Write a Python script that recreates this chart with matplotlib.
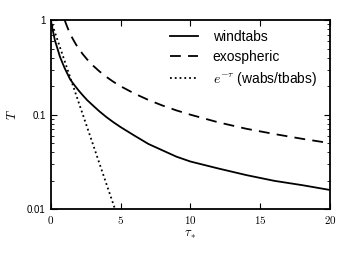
import matplotlib
matplotlib.use("Agg")
import matplotlib.pyplot as plt
from matplotlib.ticker import FixedLocator, LogLocator, NullFormatter

plt.rcParams['font.family'] = ['Liberation Sans', 'DejaVu Sans']
plt.rcParams['mathtext.fontset'] = 'cm'

# values
tau_wind = [0, 0.15, 0.3, 0.5, 0.66, 0.85, 1.0, 1.2, 1.4, 1.7, 2.0, 2.3, 2.6, 3.0, 3.5,
            4.0, 4.5, 5.0, 6.0, 7.0, 8.0, 9.0, 10, 12, 14, 16, 18, 20]
T_wind = [1.0, 0.78, 0.61, 0.49, 0.41, 0.35, 0.31, 0.27, 0.235, 0.205, 0.18, 0.16,
          0.143, 0.126, 0.108, 0.094, 0.083, 0.074, 0.06, 0.049, 0.042, 0.036,
          0.032, 0.027, 0.023, 0.020, 0.018, 0.016]

tau_exo = [1.0, 1.1, 1.25, 1.4, 1.6, 1.8, 2.0, 2.3, 2.6, 3.0, 3.5, 4.0, 4.5, 5.0, 6.0,
           7.0, 8.0, 9.0, 10, 12, 14, 16, 18, 20]
T_exo = [1.0, 0.91, 0.8, 0.71, 0.625, 0.555, 0.5, 0.435, 0.385, 0.333, 0.286, 0.25,
         0.222, 0.2, 0.167, 0.143, 0.125, 0.111, 0.1, 0.083, 0.071, 0.0625,
         0.0556, 0.05]

tau_exp = [0, 1, 2, 3, 4, 4.6]
T_exp = [1.0, 0.368, 0.135, 0.0498, 0.0183, 0.0101]

x_ticks = [0, 5, 10, 15, 20]
y_ticks = [0.01, 0.1, 1]
y_labels = ['0.01', '0.1', '1']

fig = plt.figure(figsize=(3.39, 2.54), dpi=100)
ax = fig.add_axes([0.1496, 0.176, 0.824, 0.745])

ax.plot(tau_wind, T_wind, 'k-', lw=1.3, label='windtabs')
ax.plot(tau_exo, T_exo, 'k--', lw=1.3, dashes=(6, 4), label='exospheric')
ax.plot(tau_exp, T_exp, 'k:', lw=1.3, label=r'$e^{-\tau}$ (wabs/tbabs)')

ax.set_yscale('log')
ax.set_xlim(0, 20)
ax.set_ylim(0.01, 1)

ax.xaxis.set_major_locator(FixedLocator(x_ticks))
ax.set_xticklabels(['$%d$' % t for t in x_ticks], fontsize=8)
ax.yaxis.set_major_locator(FixedLocator(y_ticks))
ax.yaxis.set_minor_locator(LogLocator(base=10, subs=range(2, 10)))
ax.yaxis.set_minor_formatter(NullFormatter())
ax.set_yticklabels(y_labels, fontsize=7)

ax.tick_params(which='both', direction='in', top=True, right=True)
ax.tick_params(which='major', length=4, width=0.8)
ax.tick_params(which='minor', length=2, width=0.6)
for s in ax.spines.values():
    s.set_linewidth(1.3)

ax.set_xlabel(r'$\tau_*$', fontsize=9, labelpad=2)
ax.set_ylabel(r'$T$', fontsize=9, labelpad=6)

ax.legend(loc='upper right', bbox_to_anchor=(0.989, 1.0), frameon=False,
          fontsize=10, handlelength=2.0, handletextpad=1.05,
          labelspacing=0.45, borderaxespad=0.3)

fig.savefig('out.png', dpi=100)
